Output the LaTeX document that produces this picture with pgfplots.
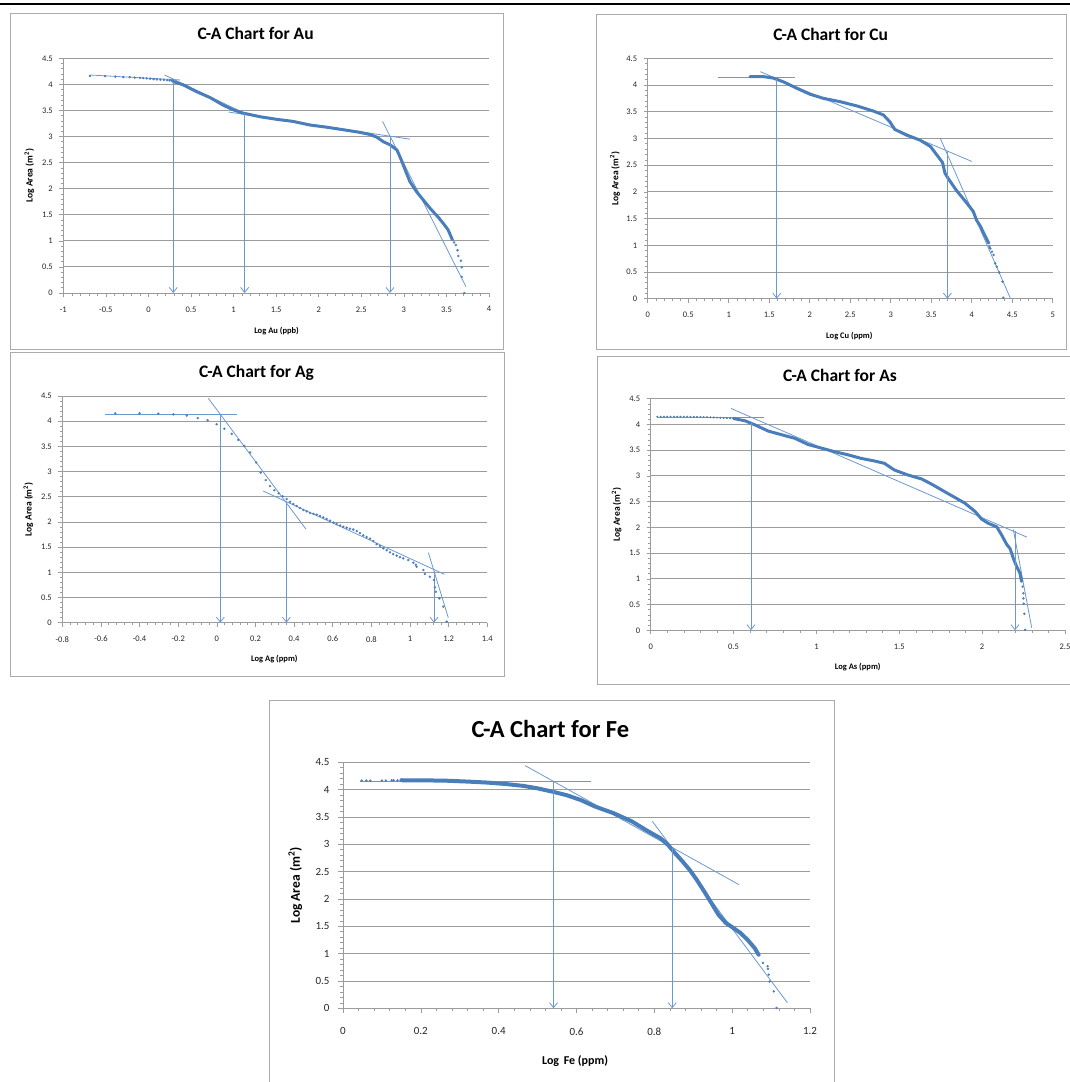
\documentclass[border=0pt]{standalone}
\usepackage{fontspec}
\setmainfont{Carlito}
\usepackage{pgfplots}
\pgfplotsset{compat=1.18}
\usetikzlibrary{arrows.meta}
\definecolor{xblue}{HTML}{4A7EBB}
\definecolor{tblue}{HTML}{6C98D2}
\definecolor{gridgray}{HTML}{9C9C9C}
\definecolor{framegray}{HTML}{ABABAB}
\pgfplotsset{
  every axis title shift=0pt,
  ca/.style={
    scale only axis, clip=false,
    axis x line*=bottom, axis y line*=left,
    axis line style={gridgray, line width=0.9pt},
    ymin=0, ymax=4.5, ytick={0,0.5,1,1.5,2,2.5,3,3.5,4,4.5},
    ymajorgrids, grid style={gridgray, line width=0.9pt},
    minor y tick num=4, minor x tick num=4,
    tick align=outside,
    major tick length=4pt, minor tick length=2.5pt,
    tick style={gridgray, line width=0.6pt},
    /pgf/number format/assume math mode=true,
    /pgf/number format/fixed,
    every tick label/.append style={font=\fontsize{8.5}{9}\selectfont, text=black!85},
    xticklabel style={yshift=-6pt},
    yticklabel style={xshift=-3pt},
    title style={font=\fontsize{17.5}{20}\selectfont\bfseries, anchor=center},
    label style={font=\fontsize{8.5}{10}\selectfont\bfseries, anchor=center},
    ylabel style={font=\fontsize{9.5}{11}\selectfont\bfseries},
    ylabel={Log Area (m\textsuperscript{2})},
  },
  dat/.style={xblue, line width=3pt, line join=round, line cap=round},
  dots/.style={xblue, only marks, mark=*, mark size=1pt},
  trend/.style={tblue, line width=0.8pt},
  arr/.style={tblue, line width=0.8pt, -{Straight Barb[length=5pt,width=8pt]}},
}
\begin{document}
\begin{tikzpicture}
\path[use as bounding box] (0,0) rectangle (1070pt,-1082pt);
\draw[black, line width=2.7pt] (0,-4pt) -- (1070pt,-4pt);
\draw[framegray, line width=0.8pt] (10.5pt,-13pt) rectangle (503pt,-349pt);
\draw[framegray, line width=0.8pt] (596pt,-14.3pt) rectangle (1066pt,-349pt);
\draw[framegray, line width=0.8pt] (10.5pt,-352.3pt) rectangle (504.3pt,-676.7pt);
\draw[framegray, line width=0.8pt] (597.7pt,-356.5pt) rectangle (1080pt,-684.3pt);
\draw[framegray, line width=0.8pt] (269.7pt,-700pt) rectangle (834pt,-1090pt);

% ---------------- Au
\begin{axis}[ca, at={(63.3pt,-293pt)}, anchor=south west,
  width=425.7pt, height=234.7pt, xmin=-1, xmax=4,
  xtick={-1,-0.5,0,0.5,1,1.5,2,2.5,3,3.5,4},
  title={C-A Chart for Au},
  title style={at={([yshift=25.3pt]axis description cs:0.452,1)}},
  xlabel={Log Au (ppb)},
  xlabel style={at={([yshift=-38pt]axis description cs:0.501,0)}},
  ylabel style={at={([xshift=-34pt]axis description cs:0,0.5)}},
]
\addplot[trend] coordinates {(-0.687,4.18) (0.37,4.085)};
\addplot[trend] coordinates {(0.19,4.18) (1.15,3.43)};
\addplot[trend] coordinates {(0.94,3.47) (3.07,2.95)};
\addplot[trend] coordinates {(2.75,3.29) (3.73,0.12)};
\addplot[dots] coordinates {(-0.687,4.16) (-0.51,4.16) (-0.39,4.15) (-0.295,4.14) (-0.22,4.14) (-0.16,4.13) (-0.10,4.125) (-0.06,4.12) (-0.02,4.115) (0.02,4.11) (0.06,4.10) (0.10,4.095) (0.14,4.09) (0.18,4.085) (0.22,4.08) (0.25,4.075) (0.28,4.07)};
\addplot[dat] coordinates {(0.28,4.07) (0.30,4.05) (0.41,3.99) (0.566,3.86) (0.72,3.75) (0.88,3.6) (1.0,3.51) (1.11,3.45) (1.31,3.38) (1.506,3.33) (1.70,3.29) (1.90,3.22) (2.09,3.18) (2.29,3.13) (2.485,3.08) (2.60,3.04) (2.68,2.99) (2.76,2.90) (2.84,2.84) (2.92,2.74) (2.97,2.55) (3.03,2.30) (3.07,2.14) (3.15,1.94) (3.23,1.78) (3.31,1.62) (3.40,1.46) (3.46,1.34) (3.52,1.21) (3.57,1.02)};
\addplot[dots] coordinates {(3.59,0.97) (3.61,0.92) (3.63,0.82) (3.64,0.71) (3.67,0.62) (3.68,0.49) (3.68,0.31) (3.71,0.0)};
\addplot[arr] coordinates {(0.292,4.05) (0.292,0)};
\addplot[arr] coordinates {(1.13,3.45) (1.13,0)};
\addplot[arr] coordinates {(2.837,3.0) (2.837,0)};
\end{axis}

% ---------------- Cu
\begin{axis}[ca, at={(647.7pt,-298.7pt)}, anchor=south west,
  width=405pt, height=240.4pt, xmin=0, xmax=5,
  xtick={0,0.5,1,1.5,2,2.5,3,3.5,4,4.5,5},
  title={C-A Chart for Cu},
  title style={at={([yshift=24pt]axis description cs:0.452,1)}},
  xlabel={Log Cu (ppm)},
  xlabel style={at={([yshift=-37pt]axis description cs:0.498,0)}},
  ylabel style={at={([xshift=-32.7pt]axis description cs:0,0.5)}},
]
\addplot[trend] coordinates {(0.87,4.145) (1.82,4.145)};
\addplot[trend] coordinates {(1.39,4.25) (4.0,2.57)};
\addplot[trend] coordinates {(3.61,3.01) (4.48,0.0)};
\addplot[dat] coordinates {(1.263,4.157) (1.43,4.157) (1.55,4.13) (1.675,4.06) (1.84,3.94) (2.0,3.83) (2.17,3.75) (2.37,3.69) (2.58,3.61) (2.79,3.51) (2.91,3.44) (2.99,3.31) (3.05,3.17) (3.20,3.06) (3.36,2.97) (3.49,2.85) (3.57,2.69) (3.64,2.55) (3.67,2.35) (3.71,2.25) (3.81,2.03) (3.94,1.79) (4.02,1.63) (4.06,1.47) (4.11,1.35) (4.14,1.25) (4.21,1.04)};
\addplot[dots] coordinates {(4.22,0.97) (4.23,0.94) (4.25,0.88) (4.27,0.82) (4.29,0.66) (4.31,0.6) (4.34,0.49) (4.38,0.32) (4.39,0.02)};
\addplot[arr] coordinates {(1.593,4.12) (1.593,0)};
\addplot[arr] coordinates {(3.70,2.76) (3.70,0)};
\end{axis}

% ---------------- Ag
\begin{axis}[ca, at={(62.3pt,-622.7pt)}, anchor=south west,
  width=425pt, height=226.7pt, xmin=-0.8, xmax=1.4,
  xtick={-0.8,-0.6,-0.4,-0.2,0,0.2,0.4,0.6,0.8,1,1.2,1.4},
  title={C-A Chart for Ag},
  title style={at={([yshift=23.3pt]axis description cs:0.457,1)}},
  xlabel={Log Ag (ppm)},
  xlabel style={at={([yshift=-36.3pt]axis description cs:0.499,0)}},
  ylabel style={at={([xshift=-34pt]axis description cs:0,0.5)}},
]
\addplot[trend] coordinates {(-0.579,4.136) (0.102,4.136)};
\addplot[trend] coordinates {(-0.044,4.454) (0.461,1.86)};
\addplot[trend] coordinates {(0.24,2.614) (1.178,0.96)};
\addplot[trend] coordinates {(1.095,1.39) (1.198,0.1)};
\addplot[dots] coordinates {(-0.526,4.156) (-0.40,4.156) (-0.303,4.15) (-0.225,4.136) (-0.156,4.11) (-0.099,4.06) (-0.048,4.02) (-0.001,3.94) (0.039,3.85) (0.077,3.75) (0.111,3.63) (0.142,3.51) (0.172,3.38) (0.203,3.18) (0.227,2.98) (0.253,2.83) (0.275,2.71) (0.298,2.63) (0.32,2.57) (0.341,2.51) (0.361,2.455) (0.379,2.40) (0.396,2.356) (0.413,2.316) (0.43,2.277) (0.448,2.237) (0.465,2.21) (0.482,2.18) (0.50,2.16) (0.517,2.144) (0.534,2.12) (0.551,2.09) (0.568,2.06) (0.586,2.025) (0.603,1.99) (0.62,1.96) (0.638,1.93) (0.655,1.906) (0.672,1.886) (0.689,1.866) (0.706,1.85) (0.724,1.82) (0.741,1.78) (0.758,1.734) (0.775,1.70) (0.793,1.668) (0.81,1.62) (0.827,1.56) (0.845,1.52) (0.862,1.476) (0.879,1.44) (0.896,1.396) (0.913,1.36) (0.931,1.33) (0.948,1.30) (0.965,1.277) (0.991,1.244) (1.017,1.19) (1.03,1.15) (1.034,1.11) (1.069,1.046) (1.077,0.966) (1.103,0.913) (1.124,0.847) (1.129,0.70) (1.134,0.615) (1.152,0.483) (1.172,0.318) (1.19,0.02)};
\addplot[arr] coordinates {(0.018,4.13) (0.018,0)};
\addplot[arr] coordinates {(0.36,2.40) (0.36,0)};
\addplot[arr] coordinates {(1.124,1.03) (1.124,0)};
\end{axis}

% ---------------- As
\begin{axis}[ca, at={(650.7pt,-630.3pt)}, anchor=south west,
  width=414.3pt, height=231.6pt, xmin=0, xmax=2.5,
  xtick={0,0.5,1,1.5,2,2.5},
  title={C-A Chart for As},
  title style={at={([yshift=23pt]axis description cs:0.457,1)}},
  xlabel={Log As (ppm)},
  xlabel style={at={([yshift=-36.4pt]axis description cs:0.4996,0)}},
  ylabel style={at={([xshift=-34pt]axis description cs:0,0.5)}},
]
\addplot[trend] coordinates {(0.036,4.13) (0.684,4.13)};
\addplot[trend] coordinates {(0.485,4.31) (2.27,1.81)};
\addplot[trend] coordinates {(2.188,1.96) (2.299,0.05)};
\addplot[dots, mark size=0.8pt] coordinates {(0.04,4.15) (0.06,4.15) (0.08,4.15) (0.10,4.15) (0.12,4.15) (0.14,4.15) (0.16,4.15) (0.18,4.15) (0.20,4.15) (0.22,4.15) (0.24,4.148) (0.26,4.147) (0.28,4.146) (0.30,4.145) (0.32,4.143) (0.34,4.141) (0.36,4.139) (0.38,4.136) (0.40,4.133) (0.42,4.13) (0.44,4.127) (0.46,4.123) (0.48,4.12) (0.50,4.115)};
\addplot[dat] coordinates {(0.50,4.115) (0.57,4.07) (0.63,3.99) (0.71,3.87) (0.79,3.80) (0.87,3.73) (0.95,3.61) (1.03,3.54) (1.11,3.47) (1.19,3.41) (1.27,3.34) (1.35,3.29) (1.41,3.245) (1.47,3.115) (1.55,3.02) (1.635,2.94) (1.695,2.84) (1.776,2.69) (1.836,2.58) (1.896,2.47) (1.957,2.31) (1.997,2.16) (2.037,2.08) (2.088,2.01) (2.118,1.85) (2.148,1.67) (2.168,1.59) (2.188,1.40) (2.208,1.24) (2.228,1.11) (2.238,0.95)};
\addplot[dots] coordinates {(2.245,0.85) (2.249,0.72) (2.249,0.62) (2.251,0.52) (2.255,0.32) (2.259,0.01)};
\addplot[arr] coordinates {(0.605,4.02) (0.605,0)};
\addplot[arr] coordinates {(2.198,1.92) (2.198,0)};
\end{axis}

% ---------------- Fe
\begin{axis}[ca, at={(343pt,-1008.3pt)}, anchor=south west,
  width=467pt, height=246pt, xmin=0, xmax=1.2,
  xtick={0,0.2,0.4,0.6,0.8,1,1.2},
  major tick length=5pt, minor tick length=3pt,
  every tick label/.append style={font=\fontsize{11}{12}\selectfont},
  xticklabel style={yshift=-5pt}, yticklabel style={xshift=-2pt},
  title={C-A Chart for Fe},
  title style={font=\fontsize{24.5}{27}\selectfont\bfseries, at={([yshift=33.3pt]axis description cs:0.444,1)}},
  label style={font=\fontsize{12}{14}\selectfont\bfseries},
  xlabel={Log\, Fe (ppm)},
  xlabel style={at={([yshift=-52.7pt]axis description cs:0.497,0)}},
  ylabel style={font=\fontsize{13.5}{15}\selectfont\bfseries, at={([xshift=-47.7pt]axis description cs:0,0.5)}},
]
\addplot[trend] coordinates {(0.043,4.16) (0.637,4.16)};
\addplot[trend] coordinates {(0.468,4.44) (1.018,2.26)};
\addplot[trend] coordinates {(0.795,3.42) (1.142,0.10)};
\addplot[dots] coordinates {(0.048,4.166) (0.06,4.166) (0.07,4.166) (0.10,4.166) (0.11,4.166) (0.125,4.17) (0.13,4.17) (0.14,4.17) (0.15,4.17)};
\addplot[dat, line width=4pt] coordinates {(0.15,4.172) (0.183,4.17) (0.257,4.166) (0.322,4.147) (0.369,4.13) (0.415,4.105) (0.462,4.07) (0.499,4.025) (0.537,3.965) (0.574,3.90) (0.611,3.81) (0.648,3.69) (0.695,3.57) (0.742,3.42) (0.779,3.26) (0.816,3.11) (0.835,2.99) (0.853,2.84) (0.872,2.69) (0.891,2.53) (0.909,2.35) (0.928,2.14) (0.947,1.92) (0.965,1.71) (0.984,1.56) (1.003,1.47) (1.021,1.38) (1.04,1.25) (1.058,1.10) (1.068,0.98)};
\addplot[dots] coordinates {(1.079,0.83) (1.091,0.77) (1.092,0.72) (1.094,0.615) (1.096,0.49) (1.107,0.31) (1.114,0.006)};
\addplot[arr] coordinates {(0.541,4.147) (0.541,0)};
\addplot[arr] coordinates {(0.846,2.93) (0.846,0)};
\end{axis}
\end{tikzpicture}
\end{document}
